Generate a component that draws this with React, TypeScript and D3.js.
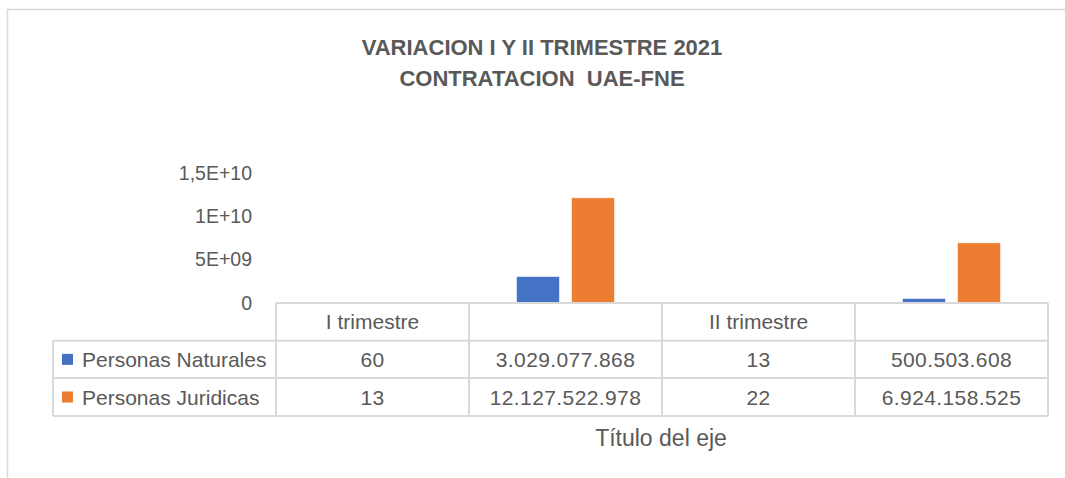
import React, { useEffect, useRef } from 'react';
import * as d3 from 'd3';

const categories = ['I trimestre', '', 'II trimestre', ''];
const seriesNames = ['Personas Naturales', 'Personas Juridicas'];
const naturales = [60, 3029077868, 13, 500503608];
const juridicas = [13, 12127522978, 22, 6924158525];
const yTicks = [0, 5e9, 1e10, 1.5e10];
const yTickLabels = ['0', '5E+09', '1E+10', '1,5E+10'];
const colors = ['#4472C4', '#ED7D31'];
const titleLines = ['VARIACION I Y II TRIMESTRE 2021', 'CONTRATACION  UAE-FNE'];
const axisTitle = 'Título del eje';

const W = 1065;
const H = 478;
const FONT = '"Liberation Sans", Arial, sans-serif';
const TEXT = '#595959';
const GRID = '#D9D9D9';

const locale = d3.formatLocale({ decimal: ',', thousands: '.', grouping: [3], currency: ['', ''] });
const fmt = locale.format(',d');

export default function App() {
  const ref = useRef<SVGSVGElement>(null);

  useEffect(() => {
    const svg = d3.select(ref.current);
    svg.selectAll('*').remove();

    const seriesValues = [naturales, juridicas];

    const x = d3.scaleBand<number>().domain(d3.range(categories.length)).range([276, 1048]);
    const xs = d3
      .scaleBand<number>()
      .domain([0, 1])
      .range([0, x.bandwidth()])
      .paddingInner(0.218)
      .paddingOuter(0.86);
    const y = d3.scaleLinear().domain([0, 1.5e10]).range([302.7, 173]);

    // frame
    svg
      .append('rect')
      .attr('x', 7.5)
      .attr('y', 9.5)
      .attr('width', W + 20)
      .attr('height', H + 20)
      .attr('fill', '#fff')
      .attr('stroke', GRID)
      .attr('stroke-width', 1.5);

    // title
    svg
      .append('g')
      .selectAll('text')
      .data(titleLines)
      .join('text')
      .attr('x', 542)
      .attr('y', (d, i) => 47 + i * 31)
      .attr('text-anchor', 'middle')
      .attr('dominant-baseline', 'central')
      .attr('font-family', FONT)
      .attr('font-weight', 'bold')
      .attr('font-size', 22)
      .attr('fill', TEXT)
      .style('white-space', 'pre')
      .text(d => d);

    // y tick labels
    svg
      .append('g')
      .selectAll('text')
      .data(yTicks)
      .join('text')
      .attr('x', 252)
      .attr('y', d => y(d))
      .attr('text-anchor', 'end')
      .attr('dominant-baseline', 'central')
      .attr('font-family', FONT)
      .attr('font-size', 19.5)
      .attr('fill', TEXT)
      .text((d, i) => yTickLabels[i]);

    // bars
    seriesValues.forEach((vals, s) => {
      svg
        .append('g')
        .selectAll('rect')
        .data(vals)
        .join('rect')
        .attr('x', (d, i) => (x(i) as number) + (xs(s) as number))
        .attr('width', xs.bandwidth())
        .attr('y', d => y(d))
        .attr('height', d => y(0) - y(d))
        .attr('fill', colors[s])
        .attr('stroke', '#fff')
        .attr('stroke-width', 0.6);
    });

    // data table
    const rowTop = [303, 340.7, 378, 416];
    const tableLeft = 53;
    const right = x.range()[1];
    const lines = svg.append('g').attr('stroke', GRID).attr('stroke-width', 2).attr('fill', 'none');
    lines.append('line').attr('x1', x(0)!).attr('x2', right).attr('y1', rowTop[0]).attr('y2', rowTop[0]);
    [1, 2, 3].forEach(r => {
      lines.append('line').attr('x1', tableLeft).attr('x2', right).attr('y1', rowTop[r]).attr('y2', rowTop[r]);
    });
    lines.append('line').attr('x1', tableLeft).attr('x2', tableLeft).attr('y1', rowTop[1]).attr('y2', rowTop[3]);
    d3.range(categories.length + 1).forEach(i => {
      const xx = i < categories.length ? (x(i) as number) : right;
      lines.append('line').attr('x1', xx).attr('x2', xx).attr('y1', rowTop[0]).attr('y2', rowTop[3]);
    });

    const cellText = (g: any) =>
      g
        .attr('text-anchor', 'middle')
        .attr('dominant-baseline', 'central')
        .attr('font-family', FONT)
        .attr('font-size', 21)
        .attr('fill', TEXT);

    svg
      .append('g')
      .selectAll('text')
      .data(categories)
      .join('text')
      .attr('x', (d, i) => (x(i) as number) + x.bandwidth() / 2)
      .attr('y', (rowTop[0] + rowTop[1]) / 2)
      .call(cellText)
      .text(d => d);

    seriesValues.forEach((vals, s) => {
      const cy = (rowTop[s + 1] + rowTop[s + 2]) / 2;
      svg
        .append('g')
        .selectAll('text')
        .data(vals)
        .join('text')
        .attr('x', (d, i) => (x(i) as number) + x.bandwidth() / 2)
        .attr('y', cy)
        .call(cellText)
        .attr('letter-spacing', 0.4)
        .text(d => fmt(d));

      svg
        .append('rect')
        .attr('x', 62)
        .attr('y', cy - 5.5)
        .attr('width', 11)
        .attr('height', 11)
        .attr('fill', colors[s]);

      svg
        .append('text')
        .attr('x', 82)
        .attr('y', cy)
        .attr('dominant-baseline', 'central')
        .attr('font-family', FONT)
        .attr('font-size', 21)
        .attr('fill', TEXT)
        .text(seriesNames[s]);
    });

    // axis title
    svg
      .append('text')
      .attr('x', 661)
      .attr('y', 438)
      .attr('text-anchor', 'middle')
      .attr('dominant-baseline', 'central')
      .attr('font-family', FONT)
      .attr('font-size', 23)
      .attr('fill', TEXT)
      .text(axisTitle);
  }, []);

  return (
    <svg
      ref={ref}
      width={W}
      height={H}
      style={{ position: 'absolute', left: 0, top: 0, display: 'block', background: '#fff' }}
    />
  );
}
